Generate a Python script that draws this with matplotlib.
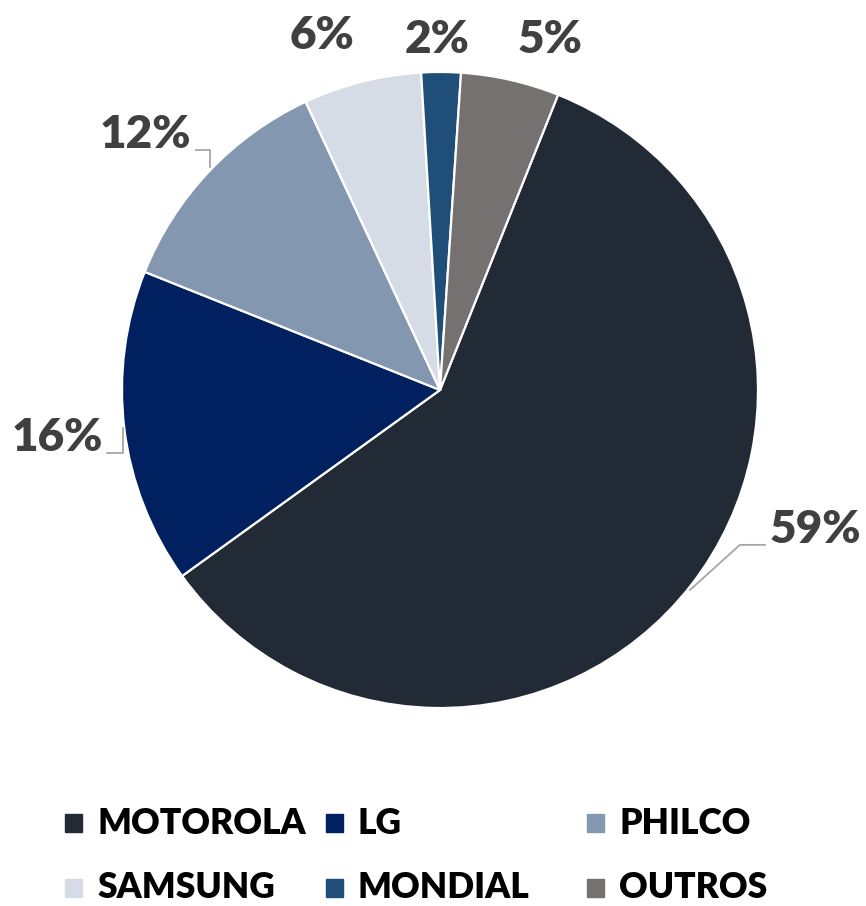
import matplotlib
matplotlib.use("Agg")
import matplotlib.pyplot as plt
from matplotlib.patches import Rectangle

# data
brands = ["MOTOROLA", "LG", "PHILCO", "SAMSUNG", "MONDIAL", "OUTROS"]
shares = [59, 16, 12, 6, 2, 5]
colors = ["#222A35", "#002060", "#8497B0", "#D6DCE5", "#1F4E79", "#767171"]

# label layout (pie data coords, radius = 1)
label_pos = [(1.179, -0.440), (-1.204, -0.148), (-0.925, 0.802),
             (-0.371, 1.116), (-0.009, 1.101), (0.346, 1.101)]
leaders = {
    0: [(0.786, -0.629), (0.943, -0.487), (1.022, -0.487)],
    1: [(-0.997, -0.119), (-0.997, -0.198), (-1.047, -0.198)],
    2: [(-0.723, 0.701), (-0.723, 0.755), (-0.767, 0.755)],
}

W, H = 866, 906
fig = plt.figure(figsize=(W / 100, H / 100), dpi=100)
cx, cy, R = 440, 390, 318
ax = fig.add_axes([(cx - R) / W, (H - cy - R) / H, 2 * R / W, 2 * R / H])
ax.pie(shares, colors=colors, startangle=68.2, counterclock=False, radius=1,
       wedgeprops=dict(edgecolor="white", linewidth=1.6))
ax.set_xlim(-1, 1)
ax.set_ylim(-1, 1)
ax.axis("off")

for i, (val, pos) in enumerate(zip(shares, label_pos)):
    ax.text(pos[0], pos[1], f"{val}%", ha="center", va="center",
            fontsize=33, fontweight="heavy", color="#404040", family="Lato",
            clip_on=False)
for i, pts in leaders.items():
    xs, ys = zip(*pts)
    ax.plot(xs, ys, color="#A6A6A6", lw=1.3, clip_on=False)

# legend laid out on a grid like the spreadsheet one
for i, (name, col) in enumerate(zip(brands, colors)):
    c, r = i % 3, i // 3
    x0 = 65 + c * 261
    yc = 823 + r * 65
    fig.patches.append(Rectangle((x0 / W, (H - yc - 9) / H), 17 / W, 18 / H,
                                 transform=fig.transFigure, color=col))
    fig.text((x0 + 32) / W, (H - yc) / H, name, ha="left", va="center",
             fontsize=25.5, fontweight="heavy", color="black", family="Lato")

fig.savefig("out.png", dpi=100)
